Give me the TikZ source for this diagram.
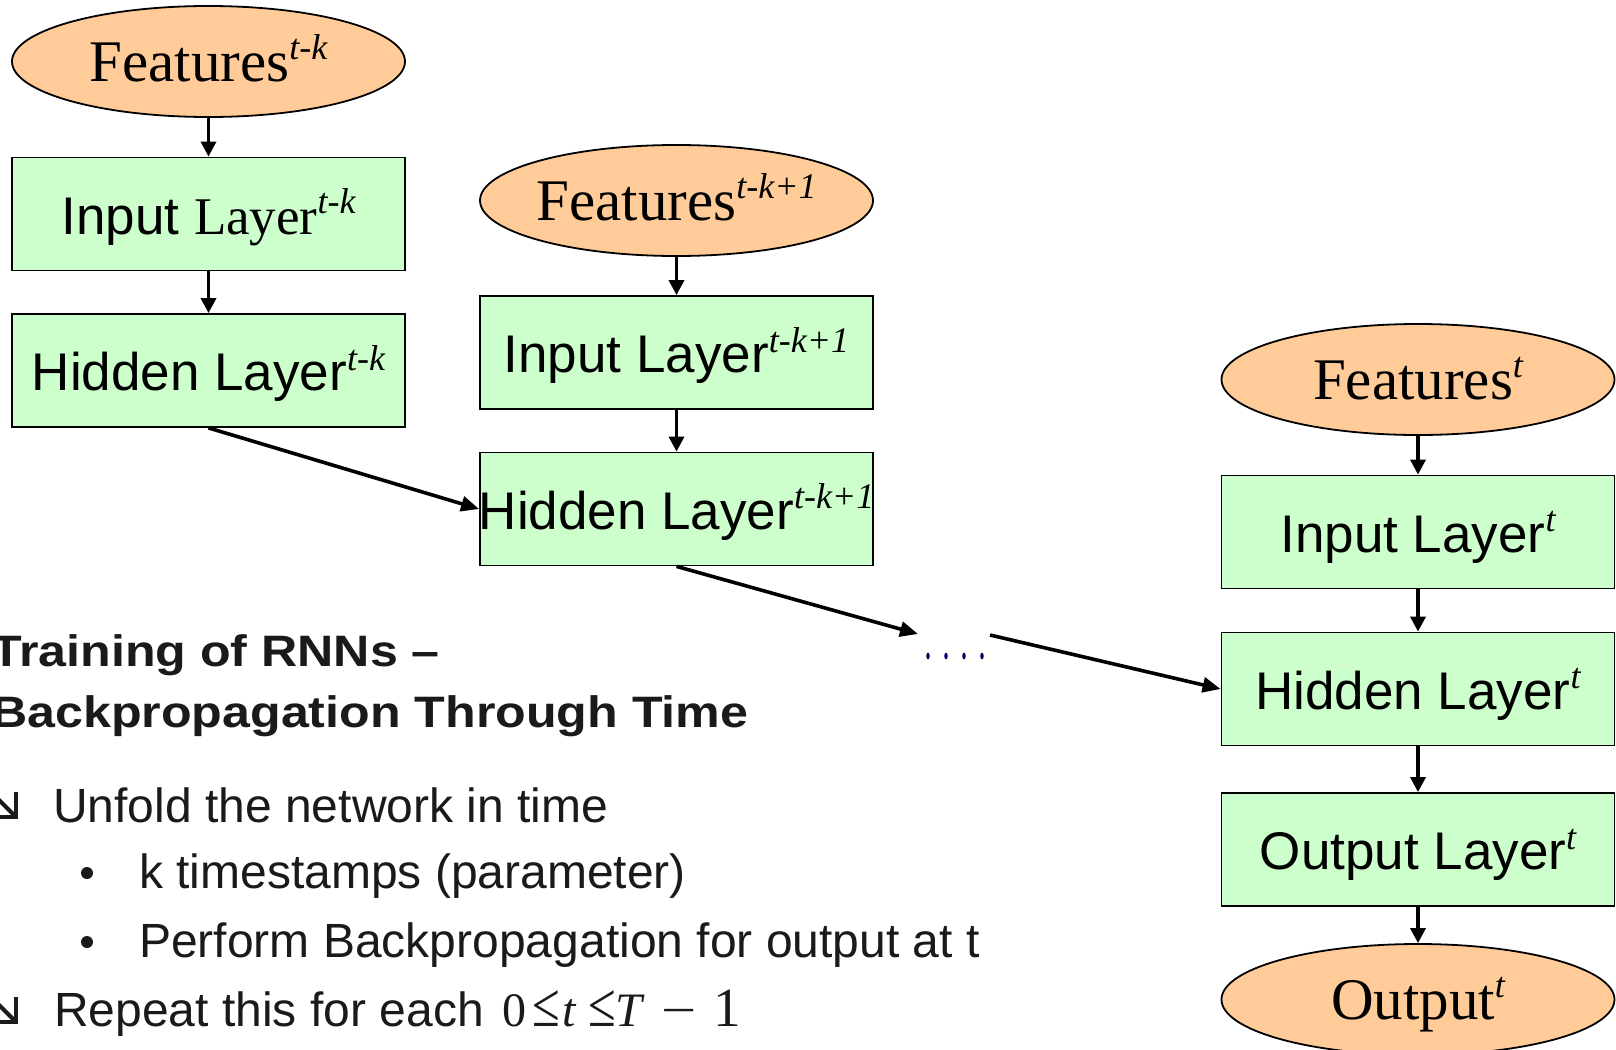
\documentclass[tikz,border=0pt]{standalone}
\usepackage{fontspec}
\setmainfont{Liberation Sans}
\newfontfamily\serifrm{Liberation Serif}
\newfontfamily\sansrm{Liberation Sans}
\usetikzlibrary{shapes.geometric,arrows.meta}

\definecolor{peach}{HTML}{FFCC99}
\definecolor{mint}{HTML}{CCFFCC}
\definecolor{dotblue}{HTML}{000066}
\definecolor{bodytext}{HTML}{1A1A1A}

% italic time index set as a superscript
\newcommand\tidx[1]{\raisebox{0.38em}{\fontsize{36pt}{36pt}\selectfont\serifrm\itshape #1}}

\tikzset{
  feat/.style={ellipse, draw=black, line width=1.8pt, fill=peach,
    minimum width=393pt, minimum height=111pt, inner sep=0pt,
    text height=40pt, text depth=0pt,
    font=\fontsize{59pt}{59pt}\selectfont\serifrm},
  layer/.style={rectangle, draw=black, line width=1.8pt, fill=mint,
    minimum width=393pt, minimum height=113pt, inner sep=0pt,
    text height=40pt, text depth=0pt,
    font=\fontsize{53pt}{53pt}\selectfont\sansrm},
  flow/.style={line width=3.4pt, -{Triangle[length=15pt,width=15pt]}},
  link/.style={line width=3.6pt, -{Triangle[length=18pt,width=15pt]}},
  heading/.style={anchor=base west, inner sep=0pt, text=bodytext,
    font=\fontsize{44pt}{44pt}\selectfont\sansrm\bfseries},
  body/.style={anchor=base west, inner sep=0pt, text=bodytext,
    font=\fontsize{48pt}{48pt}\selectfont\sansrm},
  turnarrow/.pic={
    \draw[bodytext, line width=4pt, line join=miter] (-25,0) -- (0,0) -- (0,-25);
    \draw[bodytext, line width=4pt] (-28,-28) -- (-1.5,-1.5);
  },
}

\begin{document}
\begin{tikzpicture}[x=1pt, y=-1pt]
  \fill[white] (0,0) rectangle (1616,1049);
  \useasboundingbox (0,0) rectangle (1616,1049);

  % time step t-k
  \node[feat] (F1) at (208.5,61.5) {\makebox[0pt]{Features\tidx{t-k}}};
  \node[layer] (I1) at (208.5,214) {\makebox[0pt]{Input {\serifrm Layer}\tidx{t-k}}};
  \node[layer] (H1) at (208.5,370.5) {\makebox[0pt]{Hidden Layer\tidx{t-k}}};

  % time step t-k+1
  \node[feat] (F2) at (676.5,200.5) {\makebox[0pt]{Features\tidx{t-k+1}}};
  \node[layer] (I2) at (676.5,352.5) {\makebox[0pt]{Input Layer\tidx{t-k+1}}};
  \node[layer] (H2) at (676.5,509) {\makebox[0pt]{Hidden Layer\tidx{t-k+1}}};

  % time step t
  \node[feat] (F3) at (1418,379.5) {\makebox[0pt]{Features\tidx{t}}};
  \node[layer] (I3) at (1418,532) {\makebox[0pt]{Input Layer\tidx{t}}};
  \node[layer] (H3) at (1418,689) {\makebox[0pt]{Hidden Layer\tidx{t}}};
  \node[layer] (O3) at (1418,849.5) {\makebox[0pt]{Output Layer\tidx{t}}};
  \node[feat] (Y3) at (1418,999.5) {\makebox[0pt]{Output\tidx{t}}};

  % vertical flow inside each step
  \draw[flow] (F1) -- (I1);
  \draw[flow] (I1) -- (H1);
  \draw[flow] (F2) -- (I2);
  \draw[flow] (I2) -- (H2);
  \draw[flow] (F3) -- (I3);
  \draw[flow] (I3) -- (H3);
  \draw[flow] (H3) -- (O3);
  \draw[flow] (O3) -- (Y3);

  % recurrent links between hidden layers
  \coordinate (gapIn) at (918,634);
  \coordinate (gapOut) at (990,635);
  \draw[link] (H1.south) -- (H2.west);
  \draw[link] (H2.south) -- (gapIn);
  \draw[link] (gapOut) -- (H3.west);
  \foreach \dx in {928,946,964,982}
    \fill[dotblue] (\dx,656) ellipse [x radius=1.7pt, y radius=3.4pt];

  % explanatory text
  \node[heading] (h1) at (-9,666) {\scalebox{1.14}[1]{Training of RNNs –}};
  \node[heading] (h2) at (-9,727) {\scalebox{1.14}[1]{Backpropagation Through Time}};

  \pic at (16,817) {turnarrow};
  \node[body] (b1) at (53,822) {Unfold the network in time};
  \fill[bodytext] (87,873) circle (6pt);
  \node[body] (b2) at (139,888) {k timestamps (parameter)};
  \fill[bodytext] (87,942) circle (6pt);
  \node[body] (b3) at (139,957) {Perform Backpropagation for output at t};
  \pic at (16,1022) {turnarrow};
  \node[body] (b4) at (54,1026) {Repeat this for each};
  \node[anchor=base west, inner sep=0pt, text=bodytext,
        font=\fontsize{48pt}{48pt}\selectfont\serifrm] (b5) at (502,1026)
    {\makebox[30pt][l]{0}\makebox[30pt][l]{\scalebox{1.05}[1.3]{≤}}\makebox[26pt][l]{\itshape t}%
     \makebox[27pt][l]{\scalebox{1.05}[1.3]{≤}}\makebox[46pt][l]{\itshape T}%
     \makebox[52pt][l]{\scalebox{1.3}[1]{−}}\scalebox{1.15}{1}};
\end{tikzpicture}
\end{document}
